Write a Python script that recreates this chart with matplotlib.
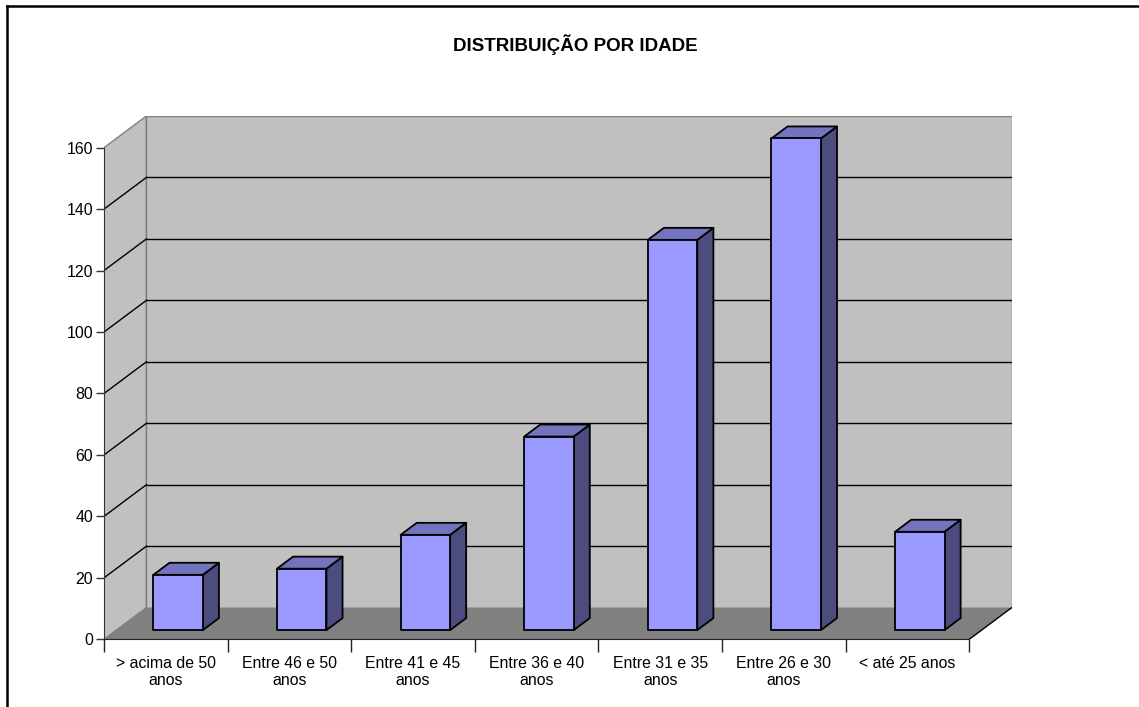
import matplotlib
matplotlib.use("Agg")
from matplotlib import pyplot as plt
from matplotlib.patches import Polygon
from matplotlib.lines import Line2D

plt.rcParams["font.family"] = ["Liberation Sans", "DejaVu Sans"]

categories = ["> acima de 50\nanos", "Entre 46 e 50\nanos", "Entre 41 e 45\nanos",
              "Entre 36 e 40\nanos", "Entre 31 e 35\nanos", "Entre 26 e 30\nanos",
              "< até 25 anos"]
values = [18, 20, 31, 63, 127, 160, 32]
yticks = [0, 20, 40, 60, 80, 100, 120, 140, 160]

# oblique depth of the 3d box, in data units
DX, DY = 0.343, 10.3
n = len(categories)
ymax = yticks[-1]

W, H = 1139, 707
fig = plt.figure(figsize=(W / 100, H / 100), dpi=100)
ax = fig.add_axes([104 / W, (H - 639.3) / H, (1011.7 - 104) / W, (639.3 - 116) / H])
ax.set_xlim(0, n + DX)
ax.set_ylim(0, ymax + DY)
ax.patch.set_visible(False)

wall = "#C0C0C0"
floor = "#808080"
edge = "#808080"

# side wall, back wall and floor
ax.add_patch(Polygon([(0, 0), (DX, DY), (DX, ymax + DY), (0, ymax)],
                     closed=True, fc=wall, ec=edge, lw=1, zorder=1))
ax.add_patch(Polygon([(DX, DY), (n + DX, DY), (n + DX, ymax + DY), (DX, ymax + DY)],
                     closed=True, fc=wall, ec=edge, lw=1, zorder=1))
for v in yticks[1:-1]:
    ax.add_line(Line2D([DX, n + DX], [v + DY, v + DY], color="black", lw=1, zorder=2))
    ax.add_line(Line2D([0, DX], [v, v + DY], color="black", lw=1, zorder=2))
ax.add_patch(Polygon([(0, 0), (n, 0), (n + DX, DY), (DX, DY)],
                     closed=True, fc=floor, ec="none", zorder=3))
ax.add_line(Line2D([n, n + DX], [0, DY], color="black", lw=1, zorder=3))

# bars
bw = 0.4
d0, d1 = 0.29, 0.67
front_c = "#9999FF"
top_c = "#7373BF"
side_c = "#4C4C7F"
for i, v in enumerate(values):
    x0 = i + 0.5 - bw / 2 + d0 * DX
    x1 = x0 + bw
    y0 = d0 * DY
    y1 = y0 + v
    ox, oy = (d1 - d0) * DX, (d1 - d0) * DY
    z = 4 + i * 0.01
    ax.add_patch(Polygon([(x1, y0), (x1 + ox, y0 + oy), (x1 + ox, y1 + oy), (x1, y1)],
                         closed=True, fc=side_c, ec="black", lw=1.3, zorder=z, joinstyle="round"))
    ax.add_patch(Polygon([(x0, y1), (x1, y1), (x1 + ox, y1 + oy), (x0 + ox, y1 + oy)],
                         closed=True, fc=top_c, ec="black", lw=1.3, zorder=z, joinstyle="round"))
    ax.add_patch(Polygon([(x0, y0), (x1, y0), (x1, y1), (x0, y1)],
                         closed=True, fc=front_c, ec="black", lw=1.3, zorder=z, joinstyle="round"))

# axes
for s in ["top", "right"]:
    ax.spines[s].set_visible(False)
ax.spines["left"].set_bounds(0, ymax)
ax.spines["bottom"].set_bounds(0, n)
ax.spines["left"].set_color("#333333")
ax.spines["bottom"].set_color("#222222")
ax.spines["left"].set_zorder(6)
ax.spines["bottom"].set_zorder(6)

ax.set_yticks(yticks)
ax.set_yticklabels([str(t) for t in yticks], fontsize=11.4)
ax.tick_params(axis="y", length=6, width=1, color="#333333", pad=2)

ax.set_xticks(range(n + 1))
ax.set_xticklabels([])
ax.set_xticks([i + 0.5 for i in range(n)], minor=True)
ax.set_xticklabels(categories, minor=True, fontsize=11.4, linespacing=1.15)
ax.tick_params(axis="x", which="major", length=9, width=1, color="#222222")
ax.tick_params(axis="x", which="minor", length=0, pad=12)

fig.text(575 / W, 1 - 45 / H, "DISTRIBUIÇÃO POR IDADE", ha="center", va="center",
         fontsize=13.5, fontweight="bold")

# frame on the top and left edges
fig.add_artist(Line2D([6.5 / W, 6.5 / W], [0, 1 - 5.5 / H], color="black", lw=1.8,
                      transform=fig.transFigure))
fig.add_artist(Line2D([6.5 / W, 1], [1 - 5.5 / H, 1 - 5.5 / H], color="black", lw=1.8,
                      transform=fig.transFigure))

fig.savefig("out.png", dpi=100)
